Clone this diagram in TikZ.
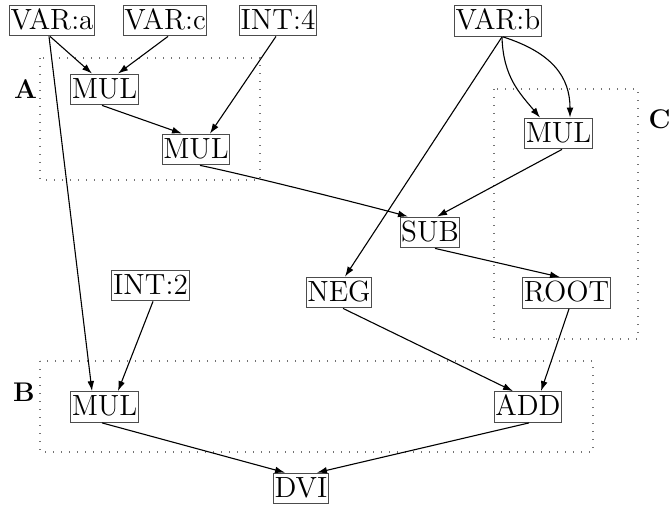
\documentclass[tikz,border=0pt]{standalone}
\usepackage{fontspec}
\usetikzlibrary{arrows.meta,calc}
\tikzset{
  op/.style={draw=black!70, line width=0.5pt, inner xsep=0.6pt, inner ysep=0pt,
    text height=12.15pt, text depth=3.25pt, font=\fontsize{14.6}{16}\selectfont},
  grp/.style={draw=black!55, line width=0.6pt, dash pattern=on 0.6pt off 3.4pt},
  lbl/.style={inner sep=0pt, font=\fontsize{13.5}{16}\selectfont\bfseries},
  edge/.style={line width=0.55pt, -{Latex[length=5pt,width=3.4pt]}},
}
\begin{document}
\begin{tikzpicture}[x=0.5pt,y=-0.5pt]
\useasboundingbox (0,0) rectangle (672,506);
% clusters
\draw[grp] (40,58) rectangle (260,180);
\draw[grp] (40,361) rectangle (593,452);
\draw[grp] (494,89) rectangle (638,339);
\node[lbl] (la) at (25.5,89) {A};
\node[lbl] (lb) at (24,392.5) {B};
\node[lbl] (lc) at (659.5,119) {C};
% nodes
\node[op] (vara) at (52,20.5) {VAR:a};
\node[op] (varc) at (165,20.5) {VAR:c};
\node[op] (int4) at (278,20.5) {INT:4};
\node[op] (varb) at (498,21) {VAR:b};
\node[op] (mulA1) at (104.5,89.5) {MUL};
\node[op] (mulA2) at (196,149.5) {MUL};
\node[op] (mulC) at (558.5,133.5) {MUL};
\node[op] (sub) at (430,232.5) {SUB};
\node[op] (neg) at (339,292.5) {NEG};
\node[op] (root) at (566.5,293) {ROOT};
\node[op] (int2) at (150.5,285.5) {INT:2};
\node[op] (mulB) at (104.5,407) {MUL};
\node[op] (add) at (528,407) {ADD};
\node[op] (dvi) at (301,488.5) {DVI};
% edges
\draw[edge] ($(vara.south)+(-2,0)$) -- ($(mulA1.north)+(-12.5,0)$);
\draw[edge] ($(varc.south)+(3,0)$) -- ($(mulA1.north)+(13.5,0)$);
\draw[edge] ($(int4.south)+(-2,0)$) -- ($(mulA2.north)+(14,0)$);
\draw[edge] ($(mulA1.south)+(-2.5,0)$) -- ($(mulA2.north)+(-14,0)$);
\draw[edge] ($(mulA2.south)+(4,0)$) .. controls +(40,8) and +(-40,-11) .. ($(sub.north)+(-22,0)$);
\draw[edge] ($(mulC.south)+(3.5,0)$) -- ($(sub.north)+(7,0)$);
\draw[edge] ($(varb.south)+(4,0)$) -- ($(neg.north)+(6,0)$);
\draw[edge] ($(varb.south)+(4,0)$) .. controls +(1,40) and +(-20,-24) .. ($(mulC.north)+(-18.5,0)$);
\draw[edge] ($(varb.south)+(5,0)$) .. controls +(50,16) and +(0,-40) .. ($(mulC.north)+(11.5,0)$);
\draw[edge] ($(sub.south)+(5,0)$) -- ($(root.north)+(-6.5,0)$);
\draw[edge] ($(neg.south)+(4,0)$) -- ($(add.north)+(-15,0)$);
\draw[edge] ($(root.south)+(2.5,0)$) -- ($(add.north)+(13,0)$);
\draw[edge] ($(int2.south)+(2.5,0)$) -- ($(mulB.north)+(13.5,0)$);
\draw[edge] ($(vara.south)+(-3,0)$) -- ($(mulB.north)+(-12.5,0)$);
\draw[edge] ($(mulB.south)+(-2.5,0)$) -- ($(dvi.north)+(-16,0)$);
\draw[edge] ($(add.south)+(1,0)$) -- ($(dvi.north)+(16,0)$);
\end{tikzpicture}
\end{document}
